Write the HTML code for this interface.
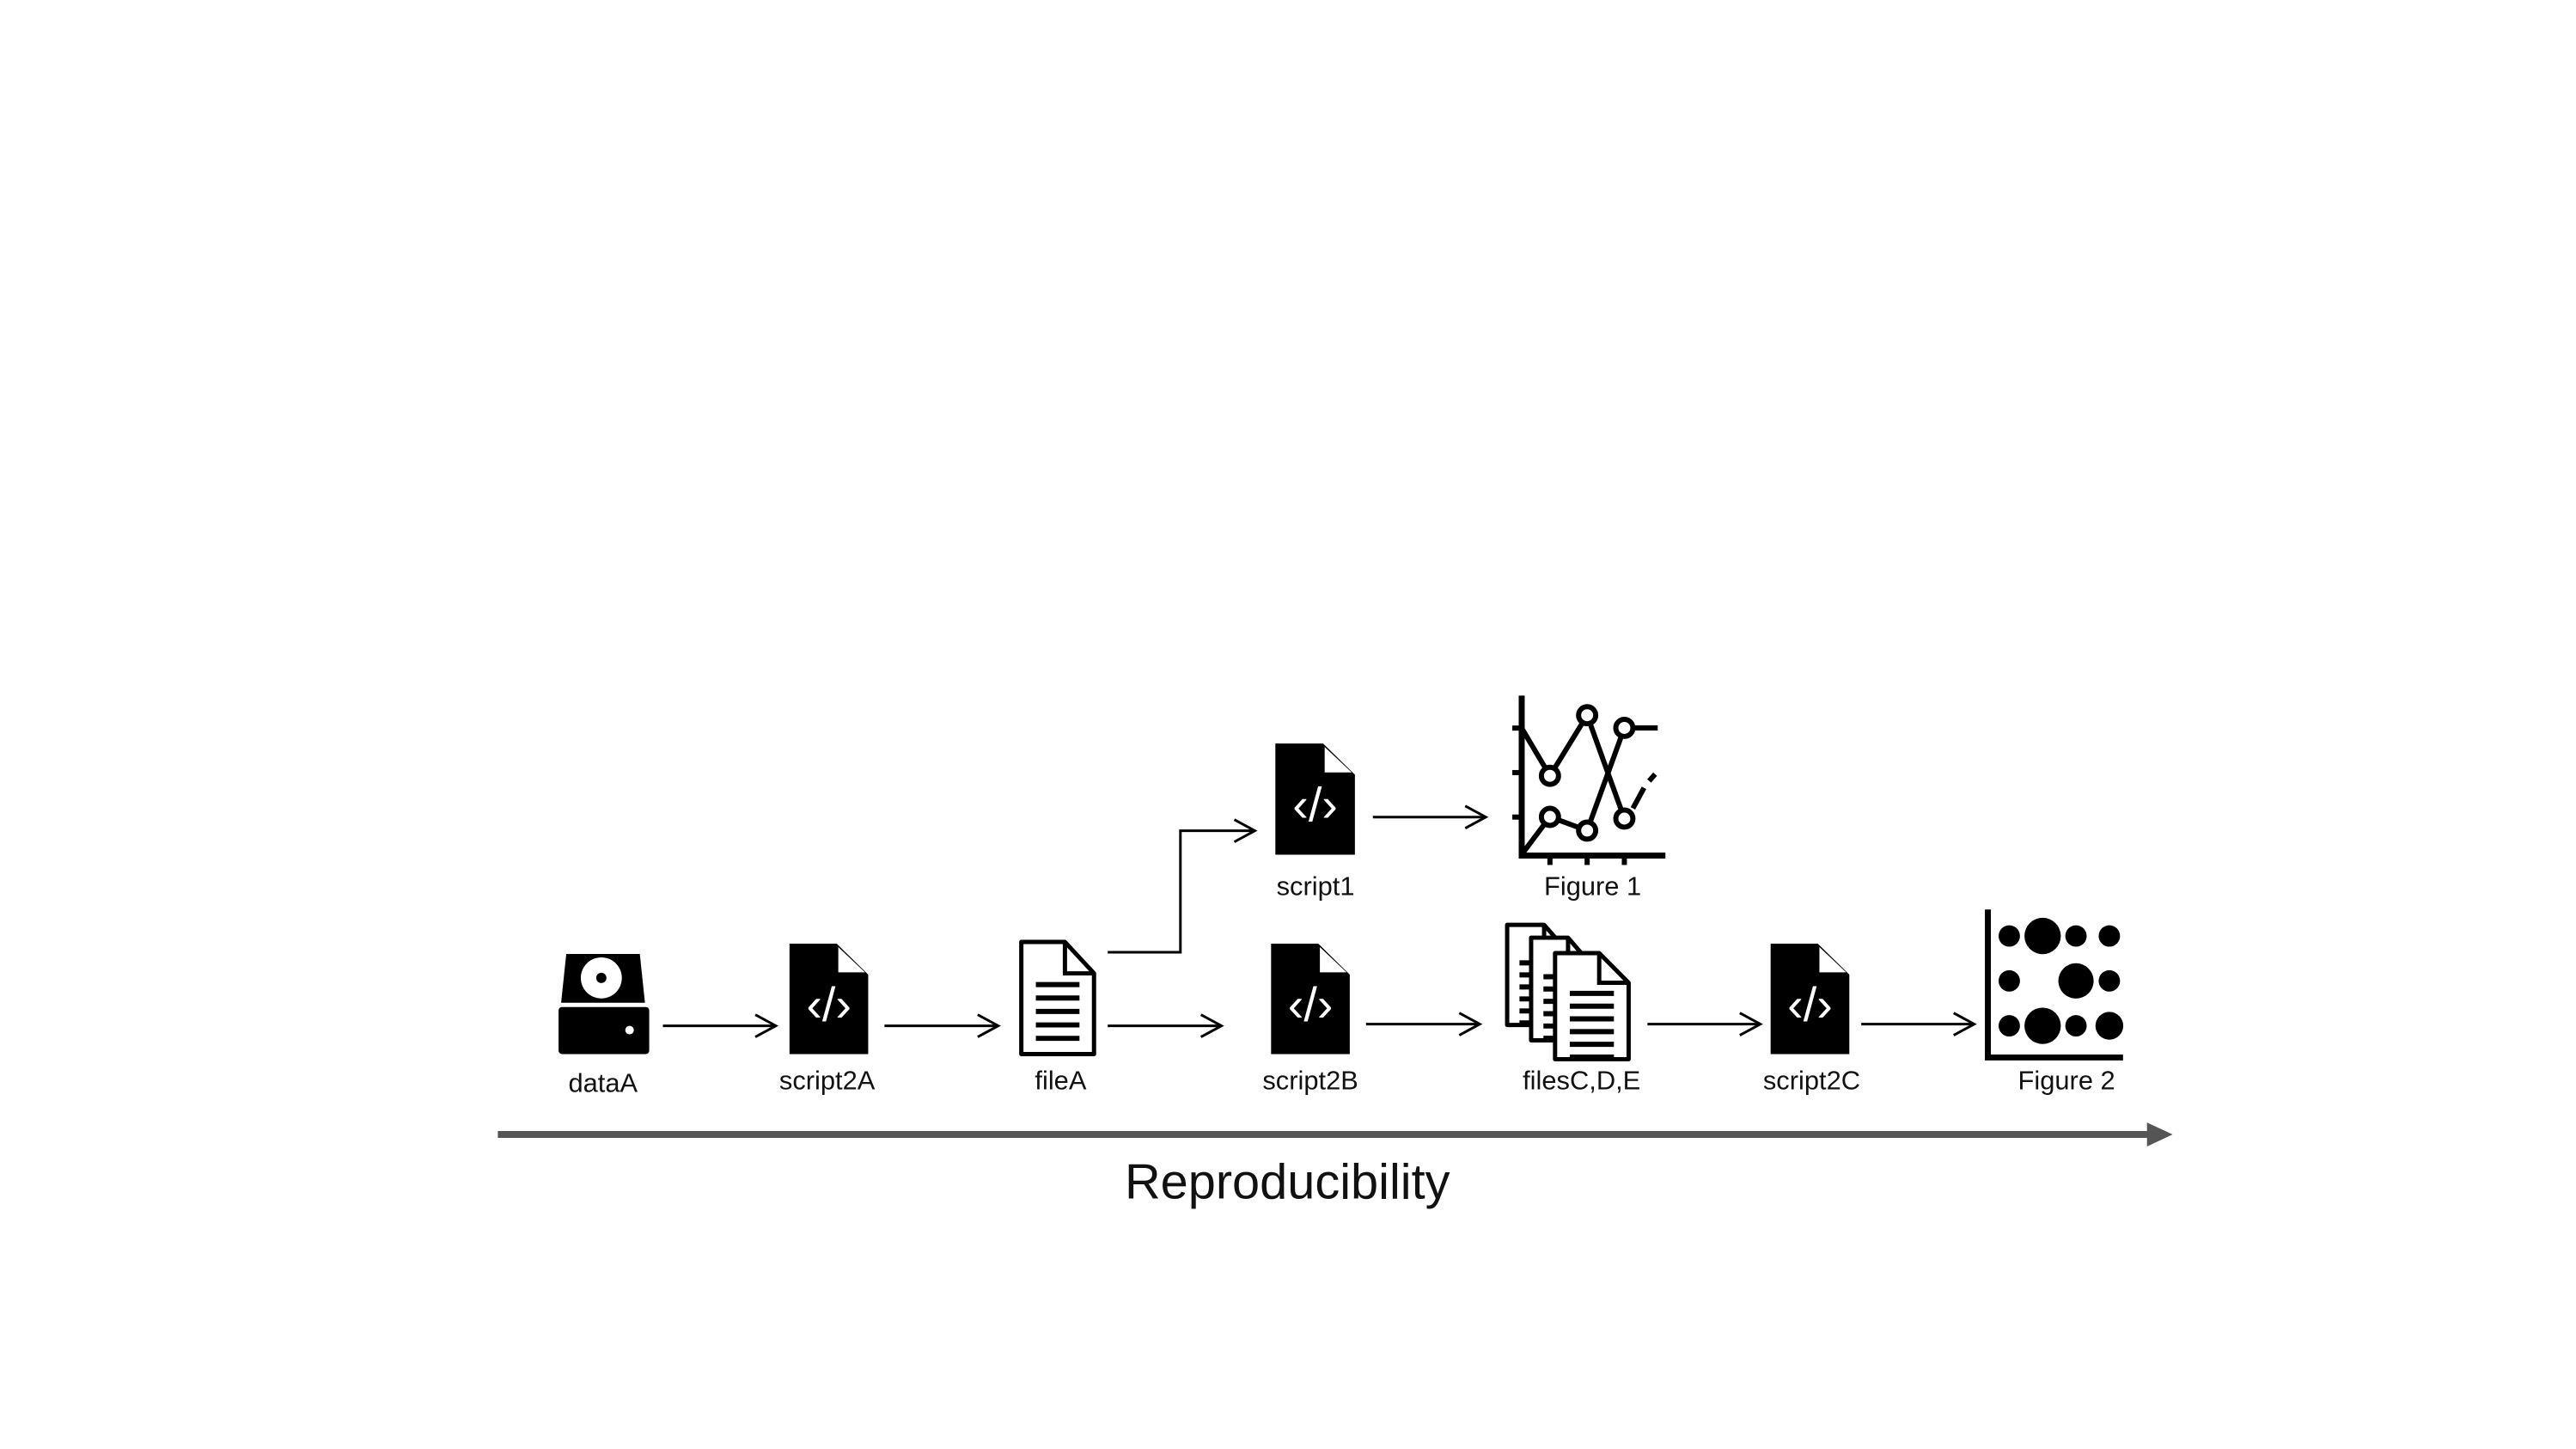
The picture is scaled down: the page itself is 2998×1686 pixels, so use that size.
<!DOCTYPE html>
<html><head><meta charset="utf-8"><style>
html,body{margin:0;padding:0;background:#fff;}
svg{display:block;}
text{font-family:"Liberation Sans",Arial,sans-serif;fill:#111;}
</style></head><body>
<svg id="s" width="2998" height="1686" viewBox="0 0 2998 1686" xmlns="http://www.w3.org/2000/svg">
<defs>
<marker id="ah" markerWidth="30" markerHeight="30" refX="26" refY="15" orient="auto" markerUnits="userSpaceOnUse">
<path d="M2,2 L26,15 L2,28" fill="none" stroke="#000" stroke-width="3"/>
</marker>
</defs>
<g transform="scale(0.9955)">
<g id="icons"></g>
<g stroke="#000" stroke-width="3" fill="none">
<line x1="775" y1="1199" x2="907" y2="1199" marker-end="url(#ah)"/>
<line x1="1034" y1="1199" x2="1167" y2="1199" marker-end="url(#ah)"/>
<line x1="1295" y1="1199" x2="1428" y2="1199" marker-end="url(#ah)"/>
<polyline points="1295,1113 1380,1113 1380,971 1467,971" marker-end="url(#ah)"/>
<line x1="1605" y1="955" x2="1737" y2="955" marker-end="url(#ah)"/>
<line x1="1597" y1="1197" x2="1730" y2="1197" marker-end="url(#ah)"/>
<line x1="1926" y1="1197" x2="2058" y2="1197" marker-end="url(#ah)"/>
<line x1="2176" y1="1197" x2="2308" y2="1197" marker-end="url(#ah)"/>
</g>
<g>
<line x1="582" y1="1326" x2="2515" y2="1326" stroke="#555" stroke-width="8"/>
<polygon points="2510,1312 2540,1326 2510,1340" fill="#555"/>
</g>
<text x="1505" y="1401" font-size="58" text-anchor="middle">Reproducibility</text>
<g font-size="31" text-anchor="middle">
<text x="705" y="1276">dataA</text>
<text x="967" y="1273">script2A</text>
<text x="1240" y="1273">fileA</text>
<text x="1538" y="1046">script1</text>
<text x="1862" y="1046">Figure 1</text>
<text x="1532" y="1273">script2B</text>
<text x="1849" y="1273">filesC,D,E</text>
<text x="2118" y="1273">script2C</text>
<text x="2416" y="1273">Figure 2</text>
</g>
</g>
</svg>
<script>
// Figure 1 line chart data (icon)
const fig1Cats = [0, 1, 2];
const fig1SeriesA = [2.33, 4.1, 1.08];
const fig1SeriesB = [1.13, 0.73, 3.73];
// Figure 2 bubble data (icon)
const fig2Rows = [2, 2, 2, 2, 1, 1, 1, 0, 0, 0, 0];
const fig2Cols = [0, 1, 2, 3, 0, 2, 3, 0, 1, 2, 3];
const fig2Sizes = [1, 1.7, 1, 1, 1, 1.65, 1, 1, 1.7, 1, 1.3];

const NS = 'http://www.w3.org/2000/svg';
const g = document.getElementById('icons');
function mk(tag, attrs, parent) {
  const e = document.createElementNS(NS, tag);
  for (const k in attrs) e.setAttribute(k, attrs[k]);
  (parent || g).appendChild(e);
  return e;
}
function scriptIcon(x, y, w, h, name) {
  const grp = mk('g', {});
  
  
  mk('polygon', {points: `${x},${y} ${x+w*0.6},${y} ${x+w},${y+h*0.28} ${x+w},${y+h} ${x},${y+h}`, fill: '#000'}, grp);
  mk('polygon', {points: `${x+w*0.62},${y+4} ${x+w*0.96},${y+h*0.26} ${x+w*0.62},${y+h*0.26}`, fill: '#fff'}, grp);
  const t = mk('text', {x: x + w/2, y: y + h*0.7, 'font-size': 56, 'text-anchor': 'middle', style: 'fill:#fff'}, grp);
  t.textContent = '‹/›';
}
scriptIcon(923, 1103, 92, 129, 'script2A-icon');
scriptIcon(1491, 869, 93, 130, 'script1-icon');
scriptIcon(1486, 1103, 92, 129, 'script2B-icon');
scriptIcon(2070, 1103, 92, 129, 'script2C-icon');

// dataA drive icon
(function(){
  const grp = mk('g', {});
  
  
  mk('path', {d: 'M662,1115 L748,1115 L754,1172 L656,1172 Z', fill: '#000'}, grp);
  mk('circle', {cx: 703, cy: 1143, r: 24, fill: '#fff'}, grp);
  mk('circle', {cx: 703, cy: 1143, r: 6, fill: '#000'}, grp);
  mk('rect', {x: 653, y: 1177, width: 106, height: 55, rx: 4, fill: '#000'}, grp);
  mk('circle', {cx: 736, cy: 1204, r: 5, fill: '#fff'}, grp);
})();

function docIcon(x, y, w, h, name, lines) {
  const grp = mk('g', {});
  
  
  mk('polygon', {points: `${x},${y} ${x+w*0.6},${y} ${x+w},${y+h*0.28} ${x+w},${y+h} ${x},${y+h}`, fill: '#fff', stroke: '#000', 'stroke-width': 5, 'stroke-linejoin': 'round'}, grp);
  mk('polyline', {points: `${x+w*0.6},${y} ${x+w*0.6},${y+h*0.28} ${x+w},${y+h*0.28}`, fill: 'none', stroke: '#000', 'stroke-width': 5}, grp);
  for (let i = 0; i < lines; i++) {
    const ly = y + h*0.38 + i * h*0.12;
    mk('line', {x1: x + w*0.2, y1: ly, x2: x + w*0.8, y2: ly, stroke: '#000', 'stroke-width': 6}, grp);
  }
}
docIcon(1194, 1101, 85, 131, 'fileA-icon', 5);
docIcon(1762, 1081, 72, 117, 'fileC-icon', 6);
docIcon(1790, 1096, 72, 120, 'fileD-icon', 6);
docIcon(1818, 1114, 86, 124, 'fileE-icon', 6);

// Figure 1 icon chart
(function(){
  const grp = mk('g', {});
  
  
  const x0 = 1779, y0 = 1000, xs = c => 1812 + c * 43.5, ys = v => y0 - v * 40;
  mk('polyline', {points: `${x0},813 ${x0},${y0} 1947,${y0}`, fill: 'none', stroke: '#000', 'stroke-width': 7}, grp);
  [851, 903, 955].forEach(ty => mk('line', {x1: x0-11, y1: ty, x2: x0, y2: ty, stroke:'#000','stroke-width':6}, grp));
  fig1Cats.forEach(c => mk('line', {x1: xs(c), y1: y0, x2: xs(c), y2: y0+11, stroke:'#000','stroke-width':6}, grp));
  const ptsA = fig1Cats.map((c,i)=>`${xs(c)},${ys(fig1SeriesA[i])}`);
  const ptsB = fig1Cats.map((c,i)=>`${xs(c)},${ys(fig1SeriesB[i])}`);
  const lastA = fig1SeriesA[fig1SeriesA.length-1], lastB = fig1SeriesB[fig1SeriesB.length-1];
  mk('polyline', {points: `${x0},851 ${ptsA.join(' ')}`, fill:'none', stroke:'#000','stroke-width':6}, grp);
  mk('line', {x1: xs(2)+10, y1: ys(lastA)-12, x2: 1922, y2: ys(lastA)-36, stroke:'#000','stroke-width':6}, grp);
  mk('line', {x1: 1928, y1: ys(lastA)-44, x2: 1935, y2: ys(lastA)-52, stroke:'#000','stroke-width':6}, grp);
  mk('polyline', {points: `${x0+2},${y0-4} ${ptsB.join(' ')} 1938,${ys(lastB)}`, fill:'none', stroke:'#000','stroke-width':6}, grp);
  fig1Cats.forEach((c,i)=>{
    mk('circle',{cx:xs(c),cy:ys(fig1SeriesA[i]),r:10,fill:'#fff',stroke:'#000','stroke-width':6},grp);
    mk('circle',{cx:xs(c),cy:ys(fig1SeriesB[i]),r:10,fill:'#fff',stroke:'#000','stroke-width':6},grp);
  });
})();

// Figure 2 bubble icon
(function(){
  const grp = mk('g', {});
  
  
  mk('polyline', {points: '2324,1063 2324,1236 2482,1236', fill:'none', stroke:'#000','stroke-width':7}, grp);
  const xs = c => 2349 + c * 39, ys = r => 1199 - r * 52.5;
  fig2Rows.forEach((r,i)=>{
    const d = mk('circle',{cx:xs(fig2Cols[i]),cy:ys(r),r:12.5*fig2Sizes[i],fill:'#000'},grp);
    
    
  });
})();
</script>
</body></html>
